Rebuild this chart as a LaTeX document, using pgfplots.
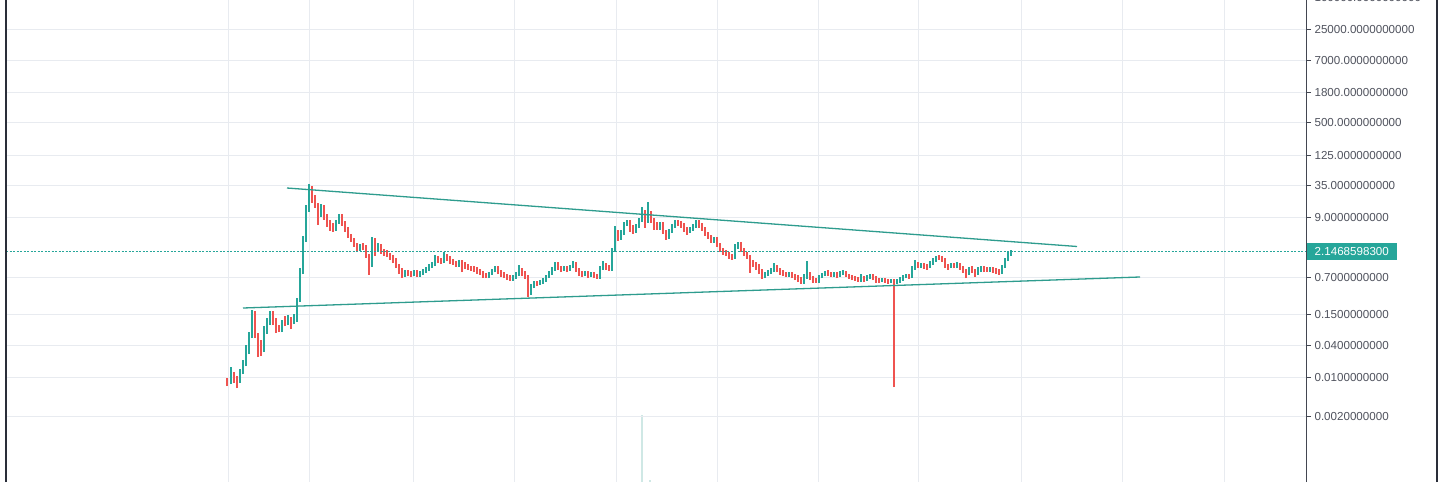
\documentclass[border=0pt]{standalone}
\usepackage{pgfplots}
\pgfplotsset{compat=1.18}
\usepackage{pgfplotstable}
\usepackage{fontspec}
\setmainfont{Liberation Sans}
\definecolor{upc}{HTML}{26A69A}
\definecolor{dnc}{HTML}{EF5350}
\definecolor{gridc}{HTML}{E8EBF0}
\definecolor{axc}{HTML}{434651}
\definecolor{framec}{HTML}{2A2E39}
\definecolor{txtc}{HTML}{50535E}
\definecolor{trendc}{HTML}{2E9C8E}
\definecolor{volc}{HTML}{CFE8E5}

% x = time position, o h l c = open high low close
\pgfplotstableread{
x o h l c
231 0.00808 0.0159 0.00775 0.0118
240 0.00880 0.0146 0.00808 0.0134
243 0.0129 0.0214 0.0118 0.0197
246 0.0181 0.0404 0.0166 0.0300
249 0.0300 0.0700 0.0276 0.0617
252 0.0591 0.178 0.0543 0.157
264 0.0327 0.0903 0.0300 0.0762
267 0.0700 0.127 0.0644 0.116
270 0.107 0.171 0.0942 0.157
282 0.0762 0.116 0.0700 0.107
288 0.1025 0.144 0.0942 0.127
294 0.107 0.150 0.0983 0.138
297 0.116 0.296 0.107 0.272
300 0.272 1.052 0.249 0.888
303 0.888 4.079 0.816 3.444
306 3.444 15.16 3.164 12.27
309 12.27 36.87 11.27 31.13
321 9.926 15.81 9.120 13.93
336 5.487 8.032 5.041 7.380
339 7.380 10.355 6.780 9.514
360 2.353 2.907 2.162 2.671
372 1.195 3.910 1.098 3.444
378 2.255 3.033 2.072 2.671
405 0.750 0.967 0.719 0.888
414 0.783 0.967 0.750 0.888
420 0.783 0.927 0.719 0.852
423 0.816 1.009 0.783 0.927
426 0.927 1.098 0.852 1.009
429 1.009 1.246 0.927 1.145
432 1.098 1.357 1.052 1.246
435 1.246 1.825 1.145 1.607
444 1.357 2.072 1.300 1.749
459 1.195 1.477 1.098 1.357
489 0.719 0.888 0.689 0.816
492 0.816 1.009 0.783 0.927
495 0.927 1.145 0.888 1.052
513 0.661 0.783 0.607 0.719
516 0.719 0.888 0.661 0.816
519 0.816 1.195 0.750 0.967
531 0.381 0.535 0.336 0.491
534 0.491 0.607 0.451 0.558
540 0.535 0.633 0.512 0.582
543 0.582 0.689 0.535 0.633
546 0.607 0.783 0.582 0.719
549 0.719 0.927 0.689 0.852
552 0.852 1.098 0.783 1.009
555 1.009 1.357 0.927 1.195
564 0.967 1.145 0.927 1.052
570 0.967 1.195 0.927 1.098
573 1.098 1.415 1.052 1.300
585 0.783 0.927 0.750 0.852
591 0.750 0.888 0.719 0.816
600 0.689 1.145 0.661 1.052
603 1.052 1.415 0.967 1.246
612 1.009 2.454 0.927 2.255
615 2.255 6.230 2.072 4.632
621 3.748 5.259 3.444 4.632
624 4.632 7.380 4.256 6.780
627 6.780 8.032 6.230 7.380
636 5.041 6.780 4.632 6.230
639 6.230 8.742 5.724 8.032
642 8.032 13.93 7.380 11.27
648 7.699 17.21 7.074 10.80
660 5.724 7.380 5.259 6.780
669 3.910 5.487 3.593 5.041
672 5.041 6.780 4.632 6.230
675 6.230 8.032 5.724 7.380
690 5.041 5.972 4.632 5.487
693 5.487 6.780 5.041 6.230
696 6.230 8.032 5.724 7.380
714 3.301 3.910 3.033 3.593
735 1.607 2.907 1.541 2.671
738 2.561 3.164 2.353 2.907
765 0.719 0.888 0.689 0.816
768 0.816 0.967 0.750 0.888
771 0.888 1.052 0.816 0.967
774 0.967 1.300 0.888 1.098
789 0.750 0.888 0.719 0.816
804 0.582 0.816 0.535 0.750
807 0.719 1.415 0.661 0.816
819 0.607 0.783 0.558 0.719
822 0.719 0.852 0.689 0.783
825 0.783 0.927 0.750 0.852
834 0.750 0.888 0.719 0.816
840 0.750 0.927 0.719 0.852
843 0.852 0.967 0.783 0.888
861 0.633 0.816 0.582 0.689
867 0.633 0.783 0.607 0.719
870 0.719 0.816 0.661 0.750
882 0.607 0.689 0.582 0.633
891 0.582 0.661 0.558 0.607
897 0.558 0.661 0.535 0.607
900 0.607 0.719 0.558 0.661
903 0.661 0.783 0.607 0.719
906 0.719 0.816 0.689 0.750
912 0.719 1.145 0.689 1.052
915 1.052 1.477 0.967 1.300
921 1.145 1.300 1.052 1.195
930 1.145 1.415 1.052 1.300
933 1.300 1.607 1.195 1.477
936 1.477 1.749 1.357 1.607
951 1.098 1.300 1.052 1.195
957 1.098 1.357 1.052 1.195
969 0.852 1.098 0.783 1.009
978 0.852 1.098 0.783 1.009
981 0.967 1.145 0.888 1.052
990 0.927 1.098 0.888 1.009
1002 0.852 1.195 0.816 1.098
1005 1.098 1.607 1.052 1.477
1008 1.477 2.072 1.415 1.904
1011 1.904 2.255 1.749 2.1468598
}\upT

\pgfplotstableread{
x o h l c
227 0.00918 0.00999 0.00712 0.00808
234 0.0118 0.0129 0.00808 0.00918
237 0.00999 0.0109 0.00654 0.00880
255 0.157 0.171 0.0543 0.0617
258 0.0617 0.0671 0.0243 0.0356
261 0.0387 0.0499 0.0253 0.0300
273 0.157 0.171 0.0942 0.107
276 0.112 0.127 0.0671 0.0795
279 0.0830 0.0942 0.0700 0.0762
285 0.127 0.138 0.0903 0.1025
291 0.121 0.132 0.0795 0.107
312 29.84 33.88 16.50 18.73
315 20.39 23.15 13.35 15.16
318 15.16 16.50 6.499 9.514
324 13.93 15.16 8.032 9.120
327 9.120 10.355 5.972 6.780
330 7.380 8.032 5.041 5.724
333 6.230 7.074 4.832 5.487
342 9.514 10.355 6.230 6.780
345 7.074 7.699 4.832 5.487
348 5.487 5.972 3.748 4.079
351 4.079 4.440 3.164 3.444
354 3.444 3.748 2.561 2.787
357 2.787 3.033 2.072 2.353
363 2.671 3.033 2.255 2.454
366 2.561 2.787 1.607 1.749
369 1.749 1.904 0.783 1.145
375 3.444 3.748 1.749 2.255
381 2.671 2.907 1.904 2.072
384 2.162 2.353 1.749 1.986
387 2.072 2.255 1.677 1.825
390 1.825 1.986 1.477 1.607
393 1.677 1.825 1.300 1.415
396 1.477 1.607 1.052 1.145
399 1.145 1.246 0.816 0.888
402 0.927 1.052 0.689 0.750
408 0.888 0.967 0.750 0.816
411 0.852 0.927 0.719 0.783
417 0.888 0.967 0.719 0.783
438 1.607 1.749 1.300 1.415
441 1.477 1.607 1.246 1.357
447 1.749 1.904 1.415 1.541
450 1.607 1.749 1.246 1.357
453 1.415 1.541 1.195 1.300
456 1.300 1.415 1.098 1.195
462 1.357 1.477 0.888 1.195
465 1.246 1.357 1.009 1.098
468 1.145 1.246 0.967 1.052
471 1.052 1.145 0.927 1.009
474 1.052 1.145 0.888 0.967
477 1.009 1.098 0.816 0.888
480 0.927 1.009 0.783 0.852
483 0.852 0.927 0.689 0.750
486 0.783 0.852 0.689 0.719
498 1.052 1.145 0.816 0.888
501 0.888 0.967 0.719 0.783
504 0.816 0.888 0.689 0.750
507 0.750 0.816 0.633 0.689
510 0.719 0.783 0.607 0.661
522 0.967 1.052 0.750 0.816
525 0.816 0.927 0.661 0.719
528 0.719 0.783 0.308 0.381
537 0.558 0.607 0.491 0.535
558 1.246 1.357 0.967 1.052
561 1.052 1.145 0.888 0.967
567 1.052 1.145 0.888 0.967
576 1.300 1.357 0.888 0.967
579 0.967 1.052 0.750 0.816
582 0.852 0.927 0.719 0.783
588 0.852 0.927 0.689 0.750
594 0.816 0.888 0.689 0.719
597 0.750 0.816 0.661 0.689
606 1.195 1.300 0.967 1.052
609 1.098 1.195 0.927 1.009
618 4.632 5.259 3.301 3.748
630 7.380 8.032 4.832 5.259
633 5.724 6.499 4.440 4.832
645 11.27 12.27 5.724 7.699
651 10.80 11.76 7.074 7.699
654 8.032 8.742 5.259 5.724
657 6.230 7.380 5.259 5.724
663 6.780 7.380 4.440 4.832
666 4.832 5.259 3.444 3.910
678 7.380 8.032 6.230 6.780
681 7.074 7.699 5.724 6.230
684 6.499 7.074 4.832 5.259
687 5.487 5.972 4.256 4.632
699 7.380 8.032 5.724 6.230
702 6.499 7.074 5.041 5.487
705 5.487 5.972 4.079 4.440
708 4.440 4.832 3.593 3.910
711 3.910 4.256 3.033 3.301
717 3.593 3.910 2.561 2.787
720 2.787 3.033 2.072 2.255
723 2.255 2.454 1.825 1.986
726 2.072 2.255 1.749 1.904
729 1.904 2.072 1.541 1.677
732 1.749 1.904 1.477 1.607
741 2.907 3.164 2.072 2.255
744 2.255 2.454 1.749 1.904
747 1.904 2.072 1.541 1.677
750 1.677 1.825 0.852 1.300
753 1.357 1.477 1.098 1.195
756 1.195 1.357 0.967 1.052
759 1.145 1.246 0.816 0.888
762 0.927 1.009 0.661 0.719
777 1.098 1.195 0.888 0.967
780 0.967 1.052 0.783 0.852
783 0.888 0.967 0.750 0.816
786 0.816 0.888 0.719 0.783
792 0.816 0.888 0.689 0.750
795 0.750 0.816 0.633 0.689
798 0.719 0.783 0.582 0.633
801 0.661 0.719 0.535 0.582
810 0.816 0.888 0.633 0.689
813 0.689 0.750 0.558 0.607
816 0.633 0.689 0.558 0.582
828 0.888 0.967 0.750 0.816
831 0.816 0.888 0.719 0.783
837 0.816 0.888 0.689 0.750
846 0.852 0.927 0.719 0.750
849 0.750 0.816 0.661 0.719
852 0.719 0.783 0.633 0.689
855 0.689 0.750 0.607 0.661
858 0.661 0.719 0.582 0.633
864 0.689 0.750 0.582 0.633
873 0.750 0.816 0.633 0.689
876 0.689 0.750 0.558 0.607
879 0.633 0.689 0.558 0.607
885 0.633 0.689 0.558 0.607
888 0.607 0.661 0.535 0.582
894 0.607 0.661 0.00683 0.558
909 0.750 0.816 0.661 0.719
918 1.246 1.357 1.052 1.145
924 1.195 1.300 1.009 1.098
927 1.145 1.246 0.967 1.052
939 1.677 1.825 1.477 1.607
942 1.607 1.749 1.357 1.477
945 1.477 1.607 1.052 1.145
948 1.145 1.246 0.967 1.052
954 1.195 1.300 1.052 1.098
960 1.195 1.300 0.967 1.052
963 1.052 1.145 0.852 0.927
966 0.927 1.009 0.689 0.852
972 1.052 1.145 0.852 0.927
975 0.927 1.009 0.719 0.816
984 1.052 1.145 0.888 0.967
987 1.009 1.098 0.888 0.967
993 1.009 1.098 0.852 0.927
996 0.967 1.052 0.816 0.888
999 0.927 1.009 0.783 0.852
}\dnT

\pgfplotsset{
  wick/.style={draw=none, forget plot, error bars/.cd, y dir=plus, y explicit,
    error mark=none, error bar style={draw=#1, line width=1.1pt}},
  body/.style={draw=none, forget plot, error bars/.cd, y dir=plus, y explicit,
    error mark=none, error bar style={draw=#1, line width=2.8pt}},
}

\begin{document}
\begin{tikzpicture}[x=1pt,y=1pt]
\path[use as bounding box] (0,0) rectangle (1448,482);
\fill[white] (0,0) rectangle (1448,482);

% volume
\begin{axis}[
  at={(6,0)}, anchor=south west, scale only axis,
  width=1300pt, height=482pt,
  xmin=6, xmax=1306, ymin=0, ymax=1, hide axis, clip=true]
  \addplot[ycomb, draw=volc, line width=2.6pt, mark=none] coordinates {(642,0.138)};
  \addplot[ycomb, draw=volc, line width=2pt, mark=none] coordinates {(650,0.005)};
\end{axis}

\begin{axis}[
  at={(6,0)}, anchor=south west, scale only axis,
  width=1300pt, height=482pt,
  xmin=6, xmax=1306,
  ymode=log, ymin=1.224e-4, ymax=8.897e4,
  axis x line*=bottom, x axis line style={draw=none},
  axis y line*=right, y axis line style={draw=axc, line width=1pt},
  tick align=outside, major tick length=5pt,
  xtick={228,309,413,514,616,717,818,918,1021,1122,1224},
  xticklabels={}, xtick style={draw=none},
  ytick={0.002,0.01,0.04,0.15,0.7,9,35,125,500,1800,7000,25000},
  yticklabels={0.0020000000,0.0100000000,0.0400000000,0.1500000000,0.7000000000,9.0000000000,35.0000000000,125.0000000000,500.0000000000,1800.0000000000,7000.0000000000,25000.0000000000},
  ytick style={draw=axc, line width=1pt},
  minor ytick={},
  yticklabel style={font=\fontsize{11.6}{13}\selectfont, text=txtc},
  xmajorgrids, ymajorgrids,
  grid style={draw=gridc, line width=1pt},
]
  % wicks
  \addplot[wick=upc] table[x=x, y=l, y error expr=\thisrow{h}-\thisrow{l}] {\upT};
  \addplot[wick=dnc] table[x=x, y=l, y error expr=\thisrow{h}-\thisrow{l}] {\dnT};
  % bodies
  \addplot[body=upc] table[x=x, y=o, y error expr=\thisrow{c}-\thisrow{o}] {\upT};
  \addplot[body=dnc] table[x=x, y=c, y error expr=\thisrow{o}-\thisrow{c}] {\dnT};
  % trend lines
  \addplot[trendc, line width=1.3pt, mark=none] coordinates {(287,31.1) (1077,2.615)};
  \addplot[trendc, line width=1.3pt, mark=none] coordinates {(243,0.1935) (1140,0.719)};
  % last price line
  \addplot[upc, line width=1pt, dash pattern=on 2pt off 1.5pt, mark=none] coordinates {(6,2.1468598) (1306,2.1468598)};
  \coordinate (pl) at (axis cs:1306,2.1468598);
  \coordinate (tk) at (axis cs:1306,100000);
\end{axis}

\node[anchor=west, fill=upc, text=white, font=\fontsize{11.6}{13}\selectfont,
  inner xsep=8pt, inner ysep=0pt, minimum height=17pt] at ([xshift=0.5pt]pl) {2.1468598300};
\node[anchor=west, text=txtc, font=\fontsize{11.6}{13}\selectfont] at ([xshift=5pt]tk) {100000.0000000000};
\draw[axc, line width=1pt] (tk) -- ++(5,0);

\draw[framec, line width=2pt] (5.7,0) -- (5.7,482);
\draw[framec, line width=2pt] (1437,0) -- (1437,482);
\end{tikzpicture}
\end{document}
